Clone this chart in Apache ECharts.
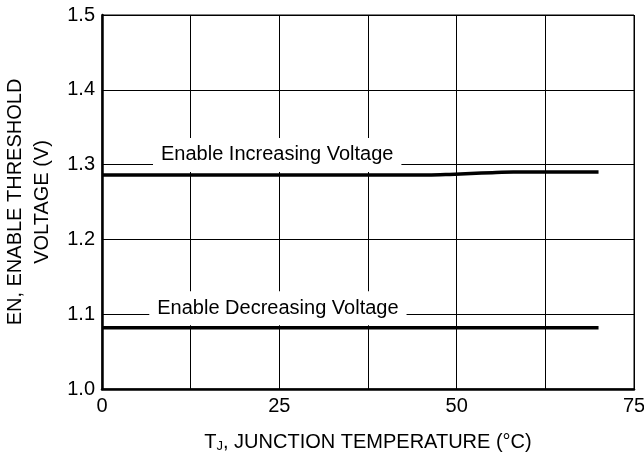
<!DOCTYPE html>
<html>
<head>
<meta charset="utf-8">
<script src="https://cdn.jsdelivr.net/npm/echarts@6/dist/echarts.min.js"></script>
<style>html,body{margin:0;padding:0;background:#fff}#c{width:644px;height:455px}</style>
</head>
<body>
<div id="c"></div>
<script>
const incTemps = [0, 46, 49, 52, 55, 58, 70];
const incValues = [1.286, 1.286, 1.2868, 1.288, 1.2892, 1.290, 1.290];
const decTemps = [0, 70];
const decValues = [1.082, 1.082];
const xTickLabels = ['0', '25', '50', '75'];
const incLabel = {text: 'Enable Increasing Voltage', x: 24.7, y: 1.313};
const decLabel = {text: 'Enable Decreasing Voltage', x: 24.8, y: 1.108};

const FONT = 'Liberation Sans, Arial, Helvetica, sans-serif';
const FS = 20;
const chart = echarts.init(document.getElementById('c'));
const labelStyle = {
  show: true, position: 'inside', color: '#000', fontFamily: FONT, fontSize: FS,
  backgroundColor: '#fff', padding: [7, 8, 7, 8]
};
chart.setOption({
  animation: false,
  grid: {left: 102, right: 10, top: 15, bottom: 66, outerBoundsMode: 'none', containLabel: false,
    show: true, borderColor: '#000', borderWidth: 1, backgroundColor: 'transparent'},
  xAxis: {
    type: 'value', min: 0, max: 75, interval: 12.5,
    axisLine: {show: true, lineStyle: {color: '#000', width: 2.5}},
    axisTick: {show: false},
    splitLine: {show: true, lineStyle: {color: '#000', width: 1}},
    axisLabel: {
      color: '#000', fontFamily: FONT, fontSize: FS, margin: 7,
      formatter: v => { const s = String(Math.round(v)); return (v % 25 === 0 && xTickLabels.includes(s)) ? s : ''; }
    },
    name: '{t|T}{s|J}{t|, JUNCTION TEMPERATURE (°C)}',
    nameLocation: 'middle', nameGap: 42,
    nameTextStyle: {
      rich: {
        t: {fontFamily: FONT, fontSize: FS, color: '#000'},
        s: {fontFamily: FONT, fontSize: 13, color: '#000', padding: [9, 0, 0, 0]}
      }
    }
  },
  yAxis: {
    type: 'value', min: 1.0, max: 1.5, interval: 0.1,
    axisLine: {show: true, lineStyle: {color: '#000', width: 2.5}},
    axisTick: {show: false},
    splitLine: {show: true, lineStyle: {color: '#000', width: 1}},
    axisLabel: {color: '#000', fontFamily: FONT, fontSize: FS, margin: 7, formatter: v => v.toFixed(1)},
    name: 'EN, ENABLE THRESHOLD\nVOLTAGE (V)',
    nameLocation: 'middle', nameRotate: 90, nameGap: 44,
    nameTextStyle: {color: '#000', fontFamily: FONT, fontSize: FS, lineHeight: 27}
  },
  series: [
    {
      type: 'line', data: incTemps.map((t, i) => [t, incValues[i]]),
      showSymbol: false, smooth: 0.3, lineStyle: {color: '#000', width: 3.5}, z: 5,
      markPoint: {symbol: 'circle', symbolSize: 0, data: [{coord: [incLabel.x, incLabel.y], value: incLabel.text}],
        label: Object.assign({}, labelStyle, {formatter: incLabel.text})}
    },
    {
      type: 'line', data: decTemps.map((t, i) => [t, decValues[i]]),
      showSymbol: false, lineStyle: {color: '#000', width: 3.5}, z: 5,
      markPoint: {symbol: 'circle', symbolSize: 0, data: [{coord: [decLabel.x, decLabel.y], value: decLabel.text}],
        label: Object.assign({}, labelStyle, {formatter: decLabel.text})}
    }
  ]
});
</script>
</body>
</html>
